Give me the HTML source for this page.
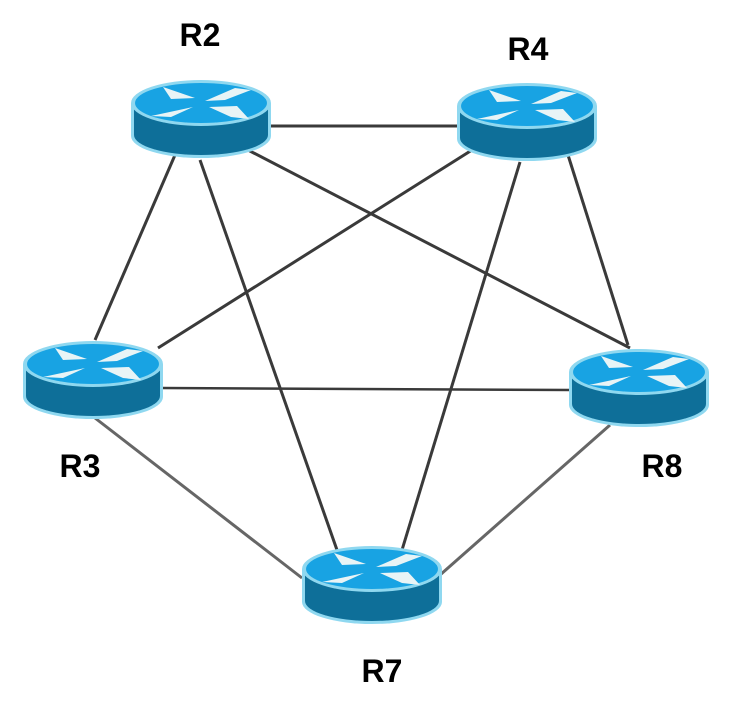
<!DOCTYPE html>
<html><head><meta charset="utf-8"><style>
html,body{margin:0;padding:0;background:#fff;width:740px;height:710px;overflow:hidden}
text{font-family:"Liberation Sans",sans-serif;font-weight:bold;font-size:32px;fill:#000}
</style></head><body>
<svg width="740" height="710" viewBox="0 0 740 710" xmlns="http://www.w3.org/2000/svg">
<defs>
<g id="r">
  <path d="M-70,0 L-70,33 A70,22 0 0 0 70,33 L70,0 Z" fill="#8fd8f0"/>
  <path d="M-67,0 L-67,32 A67,20 0 0 0 67,32 L67,0 Z" fill="#0e6f99"/>
  <ellipse cx="0" cy="0" rx="70" ry="23" fill="#8fd8f0"/>
  <ellipse cx="0" cy="0" rx="66" ry="20" fill="#18a3e3"/>
  <polygon points="-38,-16 -6,-5 -30,-4" fill="#e8f4f6"/>
  <polygon points="-50,13 -8,4 -30,14" fill="#e8f4f6"/>
  <polygon points="4,-2 34,-15 50,-13 24,-3" fill="#e8f4f6"/>
  <polygon points="8,4 36,3 48,16 30,14" fill="#e8f4f6"/>
</g>
</defs>
<g stroke="#3a3a3a" stroke-width="3" fill="none">
  <line x1="270" y1="126" x2="458" y2="126"/>
  <line x1="175" y1="155" x2="95" y2="340"/>
  <line x1="200" y1="160" x2="337" y2="550"/>
  <line x1="248" y1="150" x2="630" y2="348"/>
  <line x1="472" y1="150" x2="158" y2="348"/>
  <line x1="520" y1="162" x2="402" y2="550"/>
  <line x1="568" y1="155" x2="628" y2="345" />
  <line x1="162" y1="388" x2="572" y2="390" stroke-width="2.5"/>
  <line x1="95" y1="418" x2="302" y2="578" stroke="#666"/>
  <line x1="440" y1="575" x2="610" y2="425" stroke="#666"/>
</g>
<use href="#r" x="201" y="103"/>
<use href="#r" x="527" y="106"/>
<use href="#r" x="93" y="364"/>
<use href="#r" x="639" y="372"/>
<use href="#r" x="372" y="569"/>
<text x="200" y="46" text-anchor="middle">R2</text>
<text x="528" y="60" text-anchor="middle">R4</text>
<text x="80" y="477" text-anchor="middle">R3</text>
<text x="662" y="477" text-anchor="middle">R8</text>
<text x="382" y="682" text-anchor="middle">R7</text>
</svg>
</body></html>
